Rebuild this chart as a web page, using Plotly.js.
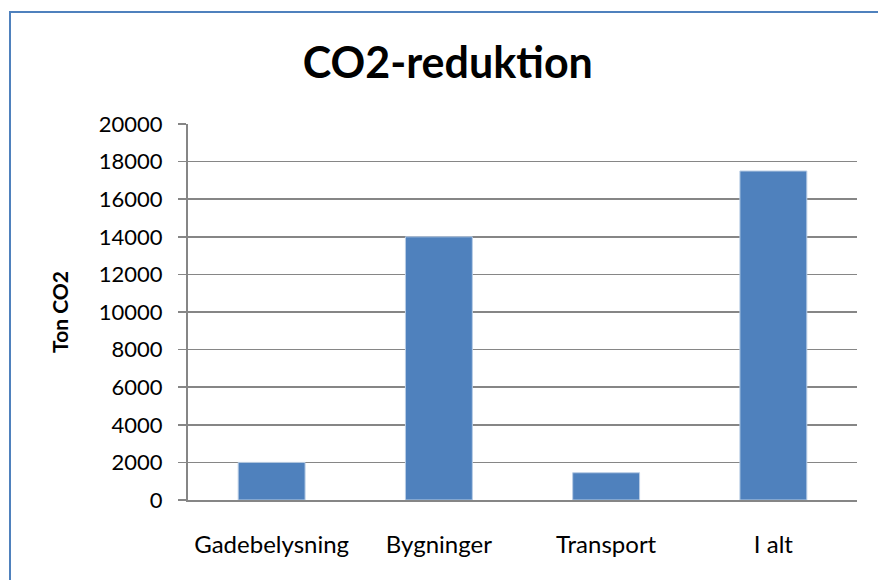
<!DOCTYPE html>
<html>
<head>
<meta charset="utf-8">
<script src="https://cdn.plot.ly/plotly-3.0.1.min.js"></script>
<style>
html,body{margin:0;padding:0;background:#fff;overflow:hidden;}
#frame{position:absolute;left:9px;top:11px;width:900px;height:600px;border-left:2px solid #4f81bd;border-top:2px solid #4f81bd;pointer-events:none;z-index:5;}
#chart{position:absolute;left:0;top:0;width:878px;height:580px;}
</style>
</head>
<body>
<div id="chart"></div>
<div id="frame"></div>
<script>
var categories = ["Gadebelysning", "Bygninger", "Transport", "I alt"];
var values = [2000, 14000, 1450, 17500];
var tickValues = [0, 2000, 4000, 6000, 8000, 10000, 12000, 14000, 16000, 18000, 20000];

var fontFam = "Lato, 'Open Sans', sans-serif";

var trace = {
  type: "bar",
  x: categories,
  y: values,
  marker: {color: "#4f81bd", line: {color: "#b9cde5", width: 1}},
  hoverinfo: "x+y"
};

var layout = {
  width: 878,
  height: 580,
  margin: {l: 188, r: 21, t: 124, b: 80},
  paper_bgcolor: "#ffffff",
  plot_bgcolor: "#ffffff",
  bargap: 0.6,
  showlegend: false,
  title: {
    text: "<b>CO2-reduktion</b>",
    font: {family: fontFam, size: 43, color: "#000"},
    x: 0.51, xanchor: "center",
    y: 0.892, yanchor: "middle"
  },
  xaxis: {
    type: "category",
    showgrid: false,
    showline: true,
    linecolor: "#868686",
    linewidth: 2,
    ticks: "",
    tickfont: {family: fontFam, size: 24, color: "#000"},
    ticklabelstandoff: 22,
    zeroline: false
  },
  yaxis: {
    range: [0, 20000],
    tickvals: tickValues,
    ticktext: tickValues.map(String),
    showgrid: true,
    gridcolor: "#868686",
    gridwidth: 1.5,
    showline: true,
    linecolor: "#868686",
    linewidth: 2,
    ticks: "outside",
    ticklen: 8,
    tickwidth: 1.5,
    tickcolor: "#868686",
    tickfont: {family: fontFam, size: 22, color: "#000"},
    ticklabelstandoff: 11,
    zeroline: false,
    title: {
      text: "<b>Ton CO2</b>",
      font: {family: fontFam, size: 21, color: "#000"},
      standoff: 24
    }
  }
};

Plotly.newPlot("chart", [trace], layout, {displayModeBar: false, staticPlot: true});
</script>
</body>
</html>
